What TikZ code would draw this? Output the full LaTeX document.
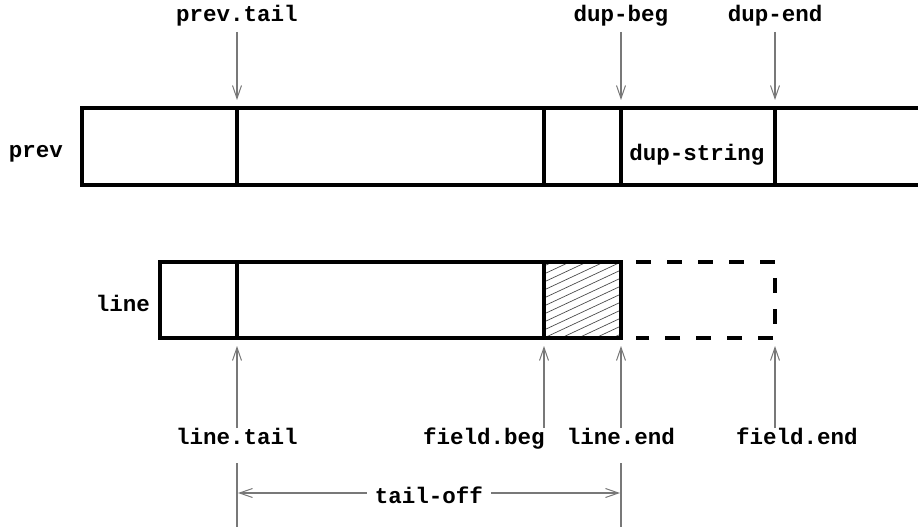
\documentclass[tikz,border=0pt]{standalone}
\usepackage{fontspec}
\setmonofont{Liberation Mono}
\usetikzlibrary{arrows.meta}
\definecolor{ptr}{RGB}{120,120,120}
\begin{document}
\begin{tikzpicture}[x=1pt,y=-1pt,
  lbl/.style={font=\ttfamily\bfseries\fontsize{22.5}{26}\selectfont, inner sep=0pt},
  boxline/.style={line width=3.5pt},
  ptrline/.style={draw=ptr, line width=1.2pt, -{Straight Barb[length=13pt,width=9pt,line width=1pt]}},
  dimline/.style={draw=ptr, line width=1.2pt}
]
\useasboundingbox (0,0) rectangle (918,529);
% prev box
\draw[boxline] (918,108) -- (82,108) -- (82,185) -- (918,185);
\foreach \x in {237,544,621,775} \draw[boxline] (\x,108) -- (\x,185);
\node[lbl] (prevlbl) at (36,154) {prev};
\node[lbl] (dupstr) at (697,155) {dup-string};
% hatch
\begin{scope}
\clip (544,262) rectangle (621,338);
\foreach \y in {230,238,...,350} \draw[black!70, line width=0.7pt] (544,\y+36) -- (621,\y);
\end{scope}
% line box
\draw[boxline] (160,262) rectangle (621,338);
\foreach \x in {237,544} \draw[boxline] (\x,262) -- (\x,338);
\draw[boxline, dash pattern=on 15pt off 16pt] (636,262) -- (775,262) -- (775,338) -- (636,338);
\node[lbl] (linelbl) at (123,303) {line};
% top labels and pointers
\node[lbl, anchor=base] (ptail) at (237,22) {prev.tail};
\node[lbl, anchor=base] (dbeg) at (621,22) {dup-beg};
\node[lbl, anchor=base] (dend) at (775,22) {dup-end};
\coordinate (ptailT) at (237,100); \coordinate (ptailS) at (237,32);
\coordinate (dbegT) at (621,100); \coordinate (dbegS) at (621,32);
\coordinate (dendT) at (775,100); \coordinate (dendS) at (775,32);
\draw[ptrline] (ptailS) -- (ptailT);
\draw[ptrline] (dbegS) -- (dbegT);
\draw[ptrline] (dendS) -- (dendT);
% bottom labels and pointers
\node[lbl, anchor=base] (ltail) at (237,444) {line.tail};
\node[lbl, anchor=base] (fbeg) at (484,444) {field.beg};
\node[lbl, anchor=base] (lend) at (621,444) {line.end};
\node[lbl, anchor=base] (fend) at (797,444) {field.end};
\foreach \n/\x in {a/237,b/544,c/621,d/775}{
  \coordinate (bs\n) at (\x,428); \coordinate (bt\n) at (\x,346);
  \draw[ptrline] (bs\n) -- (bt\n);
}
% dimension
\coordinate (extA1) at (237,463); \coordinate (extA2) at (237,527);
\coordinate (extB1) at (621,463); \coordinate (extB2) at (621,527);
\draw[dimline] (extA1) -- (extA2);
\draw[dimline] (extB1) -- (extB2);
\coordinate (dimA) at (238,493); \coordinate (dimB) at (620,493);
\node[lbl, fill=white, inner xsep=8pt, inner ysep=2pt] (toff) at (429,495) {tail-off};
\draw[dimline, -{Straight Barb[length=13pt,width=9pt,line width=1pt]}] (toff.west |- dimA) -- (dimA);
\draw[dimline, -{Straight Barb[length=13pt,width=9pt,line width=1pt]}] (toff.east |- dimB) -- (dimB);
\end{tikzpicture}
\end{document}
